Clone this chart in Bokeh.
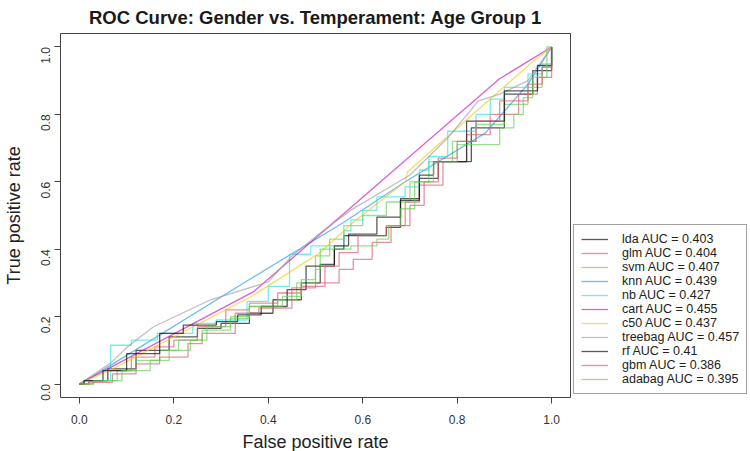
import math
from bokeh.plotting import figure
from bokeh.models import Range1d, FixedTicker, Legend, LegendItem
from bokeh.embed import file_html
from bokeh.resources import INLINE

title_text = "ROC Curve: Gender vs. Temperament: Age Group 1"
x_label = "False positive rate"
y_label = "True positive rate"
tick_values = [0.0, 0.2, 0.4, 0.6, 0.8, 1.0]
tick_labels = ["0.0", "0.2", "0.4", "0.6", "0.8", "1.0"]

models = ["lda", "glm", "svm", "knn", "nb", "cart", "c50", "treebag", "rf", "gbm", "adabag"]
auc = [0.403, 0.404, 0.407, 0.439, 0.427, 0.455, 0.437, 0.457, 0.41, 0.386, 0.395]
colors = ["#000000", "#DF536B", "#61D04F", "#2297E6", "#28E2E5", "#CD0BBC",
          "#F5C710", "#9E9E9E", "#000000", "#DF536B", "#61D04F"]
stepped = [True, True, True, False, True, False, False, False, True, True, True]

lda_fpr = [0, 0.01, 0.06, 0.12, 0.19, 0.25, 0.30, 0.36, 0.41, 0.47, 0.51, 0.54, 0.56, 0.65, 0.68, 0.68, 0.72, 0.76, 0.83, 0.90, 0.96, 1.0, 1.0]
lda_tpr = [0, 0.01, 0.045, 0.10, 0.14, 0.165, 0.18, 0.21, 0.25, 0.30, 0.35, 0.40, 0.44, 0.465, 0.49, 0.55, 0.61, 0.66, 0.76, 0.86, 0.93, 0.97, 1.0]

glm_fpr = [0, 0.02, 0.06, 0.11, 0.16, 0.20, 0.25, 0.31, 0.36, 0.42, 0.47, 0.52, 0.55, 0.59, 0.65, 0.69, 0.72, 0.77, 0.82, 0.87, 0.93, 0.97, 1.0, 1.0]
glm_tpr = [0, 0.01, 0.04, 0.08, 0.11, 0.13, 0.17, 0.22, 0.24, 0.27, 0.29, 0.35, 0.39, 0.44, 0.47, 0.54, 0.59, 0.66, 0.74, 0.80, 0.86, 0.91, 0.96, 1.0]

svm_fpr = [0, 0.03, 0.08, 0.12, 0.17, 0.21, 0.27, 0.32, 0.36, 0.42, 0.46, 0.50, 0.53, 0.56, 0.60, 0.65, 0.70, 0.74, 0.79, 0.84, 0.90, 0.95, 0.98, 1.0]
svm_tpr = [0, 0.01, 0.04, 0.07, 0.10, 0.13, 0.17, 0.20, 0.23, 0.25, 0.30, 0.38, 0.43, 0.47, 0.50, 0.54, 0.60, 0.66, 0.72, 0.77, 0.83, 0.88, 0.94, 1.0]

knn_fpr = [0, 0.06, 0.36, 0.56, 0.69, 0.86, 0.95, 1.0]
knn_tpr = [0, 0.05, 0.31, 0.48, 0.60, 0.745, 0.89, 1.0]

nb_fpr = [0, 0.01, 0.066, 0.066, 0.11, 0.165, 0.24, 0.29, 0.355, 0.40, 0.445, 0.445, 0.49, 0.56, 0.575, 0.60, 0.63, 0.69, 0.72, 0.74, 0.78, 0.84, 0.87, 0.90, 0.95, 0.98, 1.0]
nb_tpr = [0, 0.01, 0.06, 0.115, 0.13, 0.15, 0.18, 0.19, 0.245, 0.29, 0.30, 0.385, 0.41, 0.455, 0.487, 0.515, 0.555, 0.585, 0.635, 0.675, 0.75, 0.80, 0.845, 0.88, 0.92, 0.95, 1.0]

cart_fpr = [0, 0.06, 0.37, 0.889, 1.0]
cart_tpr = [0, 0.045, 0.275, 0.905, 1.0]

c50_fpr = [0, 0.066, 0.367, 0.51, 0.58, 0.69, 0.695, 0.963, 1.0]
c50_tpr = [0, 0.042, 0.262, 0.39, 0.48, 0.60, 0.63, 0.96, 1.0]

treebag_fpr = [0, 0.066, 0.104, 0.157, 0.278, 0.40, 0.45, 0.51, 0.575, 0.70, 0.78, 0.845, 0.89, 0.95, 1.0]
treebag_tpr = [0, 0.062, 0.113, 0.17, 0.25, 0.303, 0.38, 0.448, 0.516, 0.62, 0.73, 0.84, 0.86, 0.90, 1.0]

rf_fpr = [0, 0.01, 0.05, 0.10, 0.17, 0.22, 0.29, 0.335, 0.385, 0.44, 0.48, 0.51, 0.54, 0.57, 0.63, 0.68, 0.72, 0.75, 0.82, 0.90, 0.97, 1.0, 1.0]
rf_tpr = [0, 0.01, 0.04, 0.09, 0.15, 0.175, 0.185, 0.205, 0.23, 0.28, 0.35, 0.355, 0.41, 0.445, 0.495, 0.545, 0.62, 0.66, 0.78, 0.87, 0.945, 0.985, 1.0]

gbm_fpr = [0, 0.02, 0.07, 0.12, 0.17, 0.23, 0.26, 0.33, 0.38, 0.45, 0.50, 0.55, 0.58, 0.62, 0.66, 0.70, 0.73, 0.76, 0.80, 0.84, 0.89, 0.95, 0.98, 1.0]
gbm_tpr = [0, 0.005, 0.03, 0.06, 0.08, 0.12, 0.15, 0.21, 0.225, 0.285, 0.30, 0.34, 0.37, 0.42, 0.47, 0.53, 0.60, 0.67, 0.72, 0.78, 0.84, 0.89, 0.94, 1.0]

adabag_fpr = [0, 0.03, 0.09, 0.15, 0.19, 0.235, 0.26, 0.32, 0.36, 0.43, 0.47, 0.50, 0.51, 0.575, 0.63, 0.655, 0.68, 0.71, 0.75, 0.80, 0.89, 0.92, 0.94, 0.96, 0.99, 0.99, 1.0]
adabag_tpr = [0, 0.01, 0.04, 0.07, 0.10, 0.13, 0.16, 0.195, 0.23, 0.26, 0.31, 0.34, 0.40, 0.41, 0.43, 0.47, 0.52, 0.60, 0.66, 0.71, 0.76, 0.80, 0.85, 0.91, 0.97, 1.0, 1.0]

curves = {
    "lda": (lda_fpr, lda_tpr), "glm": (glm_fpr, glm_tpr), "svm": (svm_fpr, svm_tpr),
    "knn": (knn_fpr, knn_tpr), "nb": (nb_fpr, nb_tpr), "cart": (cart_fpr, cart_tpr),
    "c50": (c50_fpr, c50_tpr), "treebag": (treebag_fpr, treebag_tpr), "rf": (rf_fpr, rf_tpr),
    "gbm": (gbm_fpr, gbm_tpr), "adabag": (adabag_fpr, adabag_tpr),
}

FONT = "Liberation Sans"

p = figure(frame_width=510, frame_height=364,
           x_range=Range1d(-0.04, 1.04), y_range=Range1d(-0.04, 1.04),
           output_backend="svg", toolbar_location=None,
           min_border_left=60, min_border_right=0, min_border_top=33, min_border_bottom=54)

p.title.text = title_text
p.title.align = "center"
p.title.vertical_align = "top"
p.title.text_font = FONT
p.title.text_font_size = "18.5px"
p.title.text_font_style = "bold"
p.title.text_color = "#1a1a1a"
p.title.standoff = 8

p.xgrid.visible = False
p.ygrid.visible = False
p.outline_line_color = "#444444"
p.outline_line_width = 1
p.background_fill_color = "white"
p.border_fill_color = "white"

overrides = {v: s for v, s in zip(tick_values, tick_labels)}
for ax in (p.xaxis[0], p.yaxis[0]):
    ax.ticker = FixedTicker(ticks=tick_values)
    ax.major_label_overrides = overrides
    ax.axis_line_color = None
    ax.major_tick_in = 0
    ax.major_tick_out = 6
    ax.major_tick_line_color = "#444444"
    ax.minor_tick_line_color = None
    ax.major_label_text_font = FONT
    ax.major_label_text_font_size = "12px"
    ax.major_label_text_color = "#333333"
    ax.axis_label_text_font = FONT
    ax.axis_label_text_font_size = "18px"
    ax.axis_label_text_font_style = "normal"
    ax.axis_label_text_color = "#222222"

p.xaxis.axis_label = x_label
p.yaxis.axis_label = y_label
p.xaxis.major_label_standoff = 11
p.xaxis.axis_label_standoff = 5
p.yaxis.major_label_standoff = 9
p.yaxis.axis_label_standoff = 10
p.yaxis.major_label_orientation = math.pi / 2

items = []
for name, a, c, st in zip(models, auc, colors, stepped):
    fx, ty = curves[name]
    if st:
        r = p.step(fx, ty, mode="after", line_color=c, line_alpha=0.65, line_width=1.3)
    else:
        r = p.line(fx, ty, line_color=c, line_alpha=0.65, line_width=1.3)
    items.append(LegendItem(label=f"{name} AUC = {a}", renderers=[r]))

legend = Legend(items=items, location="bottom_left")
legend.label_text_font = FONT
legend.label_text_font_size = "12.5px"
legend.label_text_color = "#222222"
legend.label_height = 14
legend.glyph_height = 14
legend.glyph_width = 27
legend.label_standoff = 14
legend.spacing = 0
legend.padding = 7
legend.margin = 3
legend.border_line_color = "#444444"
legend.border_line_width = 1
legend.background_fill_alpha = 1.0
p.add_layout(legend, "right")

open("out.html", "w").write(file_html(p, INLINE))
